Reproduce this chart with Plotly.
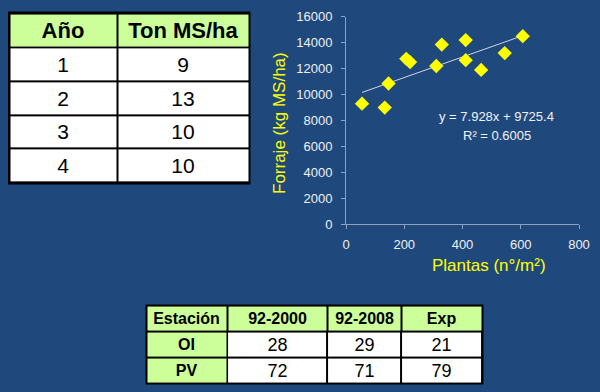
import plotly.graph_objects as go
from itertools import accumulate

# ---- data ----
plantas = [55, 133, 146, 207, 220, 310, 329, 411, 411, 464, 545, 607]
forraje = [9300, 9000, 10850, 12750, 12500, 12200, 13850, 14200, 12650, 11900, 13200, 14500]
trend_slope = 7.928
trend_intercept = 9725.4
eq_text = "y = 7.928x + 9725.4"
r2_text = "R² = 0.6005"

anio = ["1", "2", "3", "4"]
ton_ms_ha = ["9", "13", "10", "10"]
t1_header = ["Año", "Ton MS/ha"]

estacion = ["OI", "PV"]
p92_2000 = ["28", "72"]
p92_2008 = ["29", "71"]
exp_vals = ["21", "79"]
t2_header = ["Estación", "92-2000", "92-2008", "Exp"]

x_ticks = [0, 200, 400, 600, 800]
y_ticks = [0, 2000, 4000, 6000, 8000, 10000, 12000, 14000, 16000]

# ---- style / layout constants ----
BG = "#1F497D"
GREEN = "#CCFF99"
YELLOW = "#FFFF00"
AXIS = "#8EA2BF"
TICKTXT = "#F0F0F0"
FONT = "Liberation Sans"
W, H = 600, 392
T1_COLW = [109, 133]
T2_COLW = [81, 101, 74, 82]
GAP = 2
COLORSCALE = [[0, "white"], [1, GREEN]]


def edges(widths):
    return [0] + list(accumulate(widths))


def px_dom_x(a, b):
    return [a / W, b / W]


def px_dom_y(top, bottom):
    return [1 - bottom / H, 1 - top / H]


def table_cells(xa, ya, xe, ye, text, fill, size):
    return go.Heatmap(
        x=xe, y=ye, z=fill, text=text, texttemplate="%{text}",
        textfont=dict(family=FONT, size=size, color="black"),
        colorscale=COLORSCALE, zmin=0, zmax=1, showscale=False,
        xgap=GAP, ygap=GAP, hoverinfo="skip", xaxis=xa, yaxis=ya)


fig = go.Figure()

# ---- scatter chart ----
tx = [min(plantas), max(plantas)]
ty = [trend_slope * v + trend_intercept for v in tx]
fig.add_trace(go.Scatter(x=tx, y=ty, mode="lines",
                         line=dict(color="#D0D6E0", width=1),
                         hoverinfo="skip", showlegend=False))
fig.add_trace(go.Scatter(x=plantas, y=forraje, mode="markers",
                         marker=dict(symbol="diamond", size=11, color=YELLOW,
                                     line=dict(width=0)),
                         showlegend=False))

# ---- table 1 (x2/y2) ----
e1 = edges(T1_COLW)
fig.add_trace(table_cells("x2", "y2", e1, [0, 1],
                          [[f"<b>{h}</b>" for h in t1_header]],
                          [[1] * len(t1_header)], 22))
fig.add_trace(table_cells("x2", "y2", e1, list(range(1, len(anio) + 2)),
                          [[a, t] for a, t in zip(anio, ton_ms_ha)],
                          [[0, 0] for _ in anio], 21))

# ---- table 2 (x3/y3) ----
e2 = edges(T2_COLW)
fig.add_trace(table_cells("x3", "y3", e2, [0, 1],
                          [[f"<b>{h}</b>" for h in t2_header]],
                          [[1] * len(t2_header)], 16))
fig.add_trace(table_cells("x3", "y3", e2[:2], list(range(1, len(estacion) + 2)),
                          [[f"<b>{e}</b>"] for e in estacion],
                          [[1] for _ in estacion], 16))
fig.add_trace(table_cells("x3", "y3", e2[1:], list(range(1, len(estacion) + 2)),
                          [list(r) for r in zip(p92_2000, p92_2008, exp_vals)],
                          [[0, 0, 0] for _ in estacion], 18))

axis_common = dict(showgrid=False, zeroline=False, showline=True, linecolor=AXIS,
                   linewidth=1, ticks="outside", ticklen=4, tickcolor=AXIS,
                   tickformat="d",
                   tickfont=dict(family=FONT, size=13, color=TICKTXT))
hidden = dict(visible=False, showgrid=False, zeroline=False, fixedrange=True)

n1 = len(anio) + 1
n2 = len(estacion) + 1
fig.update_layout(
    width=W, height=H,
    paper_bgcolor=BG, plot_bgcolor=BG,
    margin=dict(l=0, r=0, t=0, b=0, pad=0, autoexpand=False),
    showlegend=False,
    xaxis=dict(domain=px_dom_x(346, 579), range=[0, 800], tickvals=x_ticks,
               ticklabelstandoff=4, **axis_common),
    yaxis=dict(domain=px_dom_y(16.7, 224.3), range=[0, 16000],
               tickvals=y_ticks, ticklabelstandoff=6, **axis_common),
    xaxis2=dict(domain=px_dom_x(8, 250.5), range=[-1.5, e1[-1] + 1.5],
                anchor="y2", **hidden),
    yaxis2=dict(domain=px_dom_y(11.5, 184.5), range=[n1 + 0.06, -0.06],
                anchor="x2", **hidden),
    xaxis3=dict(domain=px_dom_x(145.5, 483.5), range=[-1, e2[-1] + 1],
                anchor="y3", **hidden),
    yaxis3=dict(domain=px_dom_y(304.5, 384.5), range=[n2 + 0.04, -0.04],
                anchor="x3", **hidden),
    shapes=[
        dict(type="rect", xref="x2 domain", yref="y2 domain", x0=0, x1=1, y0=0, y1=1,
             fillcolor="black", line=dict(width=0), layer="below"),
        dict(type="rect", xref="x3 domain", yref="y3 domain", x0=0, x1=1, y0=0, y1=1,
             fillcolor="black", line=dict(width=0), layer="below"),
    ],
    annotations=[
        dict(text="Plantas (n°/m²)", xref="paper", yref="paper",
             x=489 / W, y=1 - 265 / H, xanchor="center", yanchor="middle",
             showarrow=False,
             font=dict(family=FONT, size=17, color=YELLOW)),
        dict(text="Forraje (kg MS/ha)", xref="paper", yref="paper",
             x=280 / W, y=1 - 123 / H, xanchor="center", yanchor="middle",
             showarrow=False, textangle=-90,
             font=dict(family=FONT, size=17, color=YELLOW)),
        dict(text=eq_text, xref="x", yref="y", x=517, y=8290, showarrow=False,
             xanchor="center", yanchor="middle",
             font=dict(family=FONT, size=13, color="#F2F2F2")),
        dict(text=r2_text, xref="x", yref="y", x=517, y=6880, showarrow=False,
             xanchor="center", yanchor="middle",
             font=dict(family=FONT, size=13, color="#F2F2F2")),
    ],
)

fig.write_html(
    "out.html",
    config={"displayModeBar": False, "staticPlot": True},
    post_script="document.body.style.margin='0px';"
                "document.body.style.padding='0px';"
                "document.body.style.overflow='hidden';"
                "document.body.style.background='" + BG + "';",
)
